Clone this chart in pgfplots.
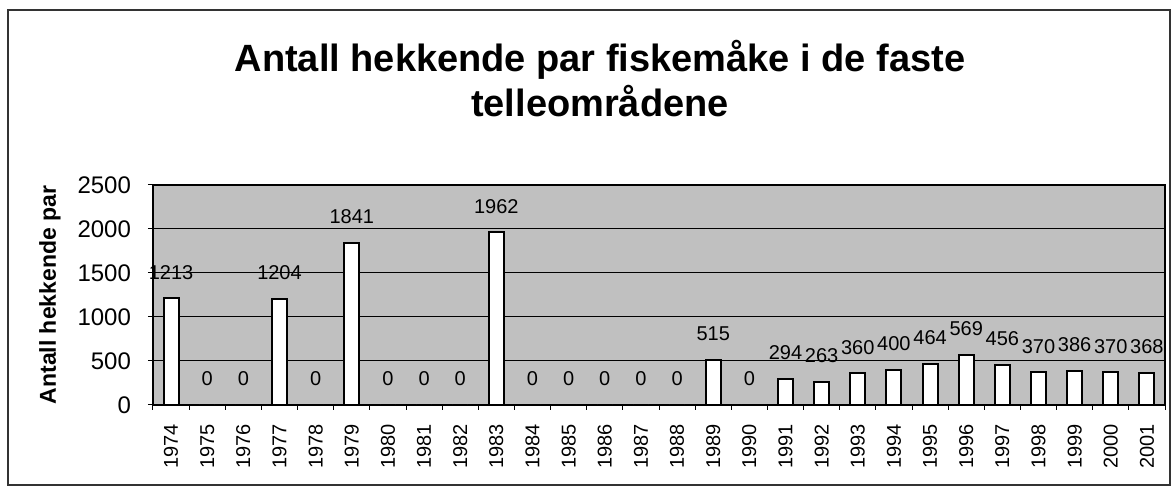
\documentclass[border=0pt]{standalone}
\usepackage{pgfplots}
\pgfplotsset{compat=1.18}
\usepackage{fontspec}
\setmainfont{Liberation Sans}
\definecolor{plotgray}{RGB}{192,192,192}
\begin{document}
\begin{tikzpicture}
\useasboundingbox (-76.5pt,-42.5pt) rectangle (510pt,202.5pt);
\draw[line width=0.6pt, black!80] (-72.5pt,-40pt) rectangle (508.5pt,197.5pt);
\begin{axis}[
  at={(0pt,0pt)}, anchor=south west,
  width=506pt, height=110pt, scale only axis,
  xmin=-0.5, xmax=27.5, ymin=0, ymax=2500,
  ytick={0,500,1000,1500,2000,2500},
  xtick={-0.5,0.5,...,27.5},
  xticklabels={},
  extra x ticks={0,1,...,27},
  extra x tick labels={1974,1975,1976,1977,1978,1979,1980,1981,1982,1983,1984,1985,1986,1987,1988,1989,1990,1991,1992,1993,1994,1995,1996,1997,1998,1999,2000,2001},
  extra x tick style={major tick length=0pt},
  tick align=outside,
  xtick pos=left, ytick pos=left,
  major tick length=2.5pt,
  tick style={black, line width=0.5pt},
  ymajorgrids,
  grid style={black, line width=0.5pt},
  axis background/.style={fill=plotgray},
  axis line style={black, line width=0.6pt},
  ybar, bar width=7.5pt,
  nodes near coords,
  nodes near coords style={font=\fontsize{10}{11}\selectfont, anchor=south, inner sep=0pt, yshift=9pt},
  /pgf/number format/1000 sep={},
  /pgf/number format/assume math mode=true,
  ylabel={Antall hekkende par},
  ylabel style={at={(axis description cs:-0.1018,0.5)}, anchor=center, font=\bfseries\fontsize{11.5}{12}\selectfont},
  title={Antall hekkende par fiskemåke i de faste\\telleområdene},
  title style={at={(axis description cs:0.4417,1)}, anchor=center, yshift=47pt, align=center, font=\bfseries\fontsize{19}{22.5}\selectfont},
  yticklabel style={font=\fontsize{12}{13}\selectfont, xshift=-5pt},
  xticklabel shift=6pt,
  xticklabel style={rotate=90, anchor=east, font=\fontsize{10}{11}\selectfont},
]
\addplot[fill=white, draw=black, line width=1pt] coordinates {
(0,1213) (1,0) (2,0) (3,1204) (4,0) (5,1841) (6,0) (7,0) (8,0) (9,1962)
(10,0) (11,0) (12,0) (13,0) (14,0) (15,515) (16,0) (17,294) (18,263) (19,360)
(20,400) (21,464) (22,569) (23,456) (24,370) (25,386) (26,370) (27,368)
};
\end{axis}
\end{tikzpicture}
\end{document}
